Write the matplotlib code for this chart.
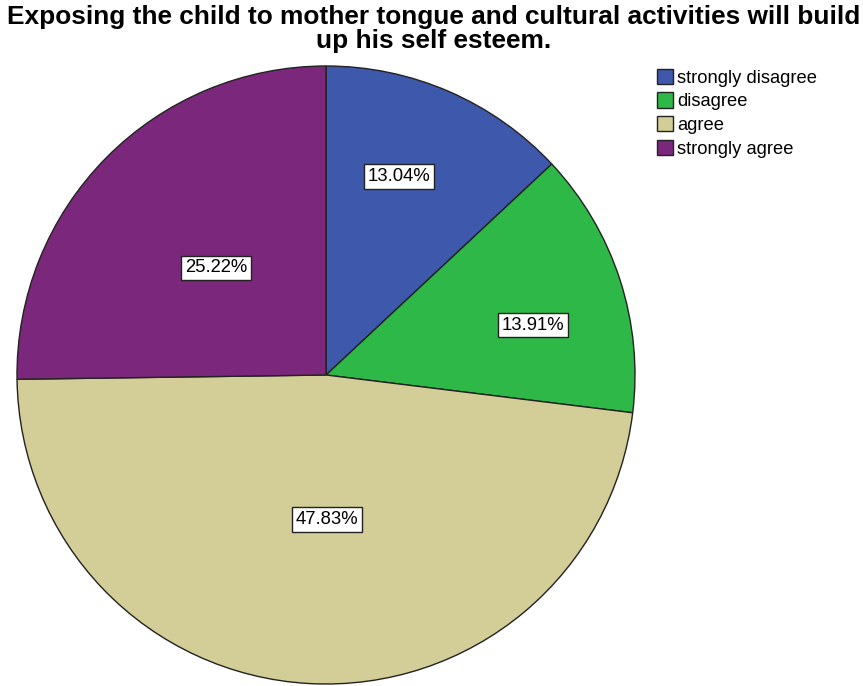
import matplotlib
matplotlib.use('Agg')
import matplotlib.pyplot as plt
from matplotlib.patches import Patch
import numpy as np

# Survey answers and their shares (%)
categories = ['strongly disagree', 'disagree', 'agree', 'strongly agree']
percents = [13.04, 13.91, 47.83, 25.22]
colors = ['#3E58AC', '#2EB848', '#D3CE97', '#7B287C']
# label placement (fraction of radius, angle nudge in degrees)
label_dist = [0.685, 0.69, 0.468, 0.497]
label_nudge = [3.3, -4.5, 3.5, 0.4]

plt.rcParams['font.family'] = ['Liberation Sans', 'DejaVu Sans']

W, H = 863, 686
fig = plt.figure(figsize=(W / 100, H / 100), dpi=100)
ax = fig.add_axes([0, 0, 1, 1])

cx, cy, r = 326, H - 375, 309
wedges, _ = ax.pie(percents, colors=colors, startangle=90, counterclock=False,
                   center=(cx, cy), radius=r, frame=True,
                   wedgeprops=dict(edgecolor='#222222', linewidth=1.0))
ax.set_xlim(0, W)
ax.set_ylim(0, H)
ax.set_aspect('equal')
ax.axis('off')

# Percentage labels in white boxes
for w, p, d, n in zip(wedges, percents, label_dist, label_nudge):
    mid = np.deg2rad((w.theta1 + w.theta2) / 2 + n)
    x = cx + d * r * np.cos(mid)
    y = cy + d * r * np.sin(mid)
    ax.text(x, y, f'{p:.2f}%', ha='center', va='center', fontsize=13.3,
            bbox=dict(boxstyle='square,pad=0.2', facecolor='white',
                      edgecolor='#222222', linewidth=1.0))

fig.text(0.502, 0.993, 'Exposing the child to mother tongue and cultural activities will build\nup his self esteem.',
         ha='center', va='top', fontsize=18.9, fontweight='bold', linespacing=1.0)

handles = [Patch(facecolor=c, edgecolor='#222222', linewidth=1.0) for c in colors]
fig.legend(handles, categories, loc='upper left', bbox_to_anchor=(0.761, 0.900),
           frameon=False, fontsize=13.2, handlelength=0.9, handleheight=0.9,
           handletextpad=0.2, labelspacing=0.32, borderpad=0, borderaxespad=0)

fig.savefig('out.png', dpi=100)
